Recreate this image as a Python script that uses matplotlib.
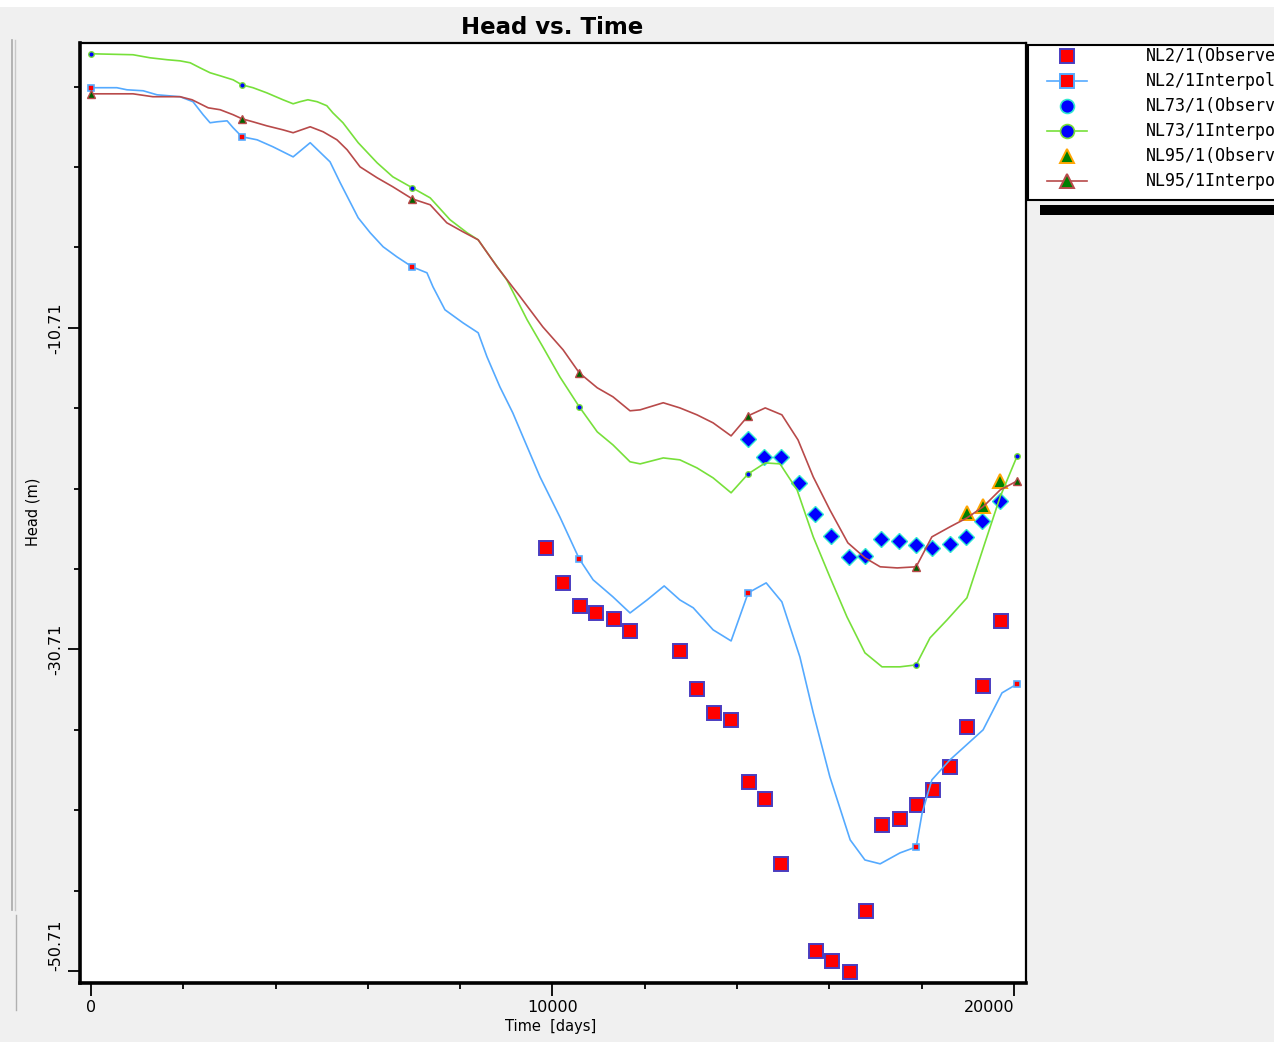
import numpy as np
import matplotlib.pyplot as plt
from matplotlib.lines import Line2D
from matplotlib.patches import Rectangle

# observed heads (days, m)
nl2_obs_days = [9860, 10230, 10600, 10940, 11330, 11680, 12760, 13130, 13500, 13870,
                14260, 14600, 14950, 15710, 16060, 16450, 16790, 17140, 17530, 17900,
                18250, 18610, 18980, 19330, 19720]
nl2_obs_head = [-24.39, -26.57, -28.00, -28.43, -28.81, -29.55, -30.80, -33.16, -34.65, -35.09,
                -38.94, -40.00, -44.04, -49.45, -50.08, -50.76, -46.97, -41.62, -41.24, -40.37,
                -39.44, -38.01, -35.52, -32.97, -28.93]

nl73_obs_days = [14240, 14580, 14950, 15340, 15690, 16030, 16430, 16770, 17120, 17510,
                 17880, 18220, 18610, 18960, 19310, 19700]
nl73_obs_head = [-17.61, -18.73, -18.73, -20.35, -22.28, -23.65, -24.95, -24.89, -23.83, -23.96,
                 -24.21, -24.39, -24.14, -23.71, -22.71, -21.47]

nl95_obs_days = [18980, 19330, 19700]
nl95_obs_head = [-22.22, -21.78, -20.23]

# interpolated (simulated) heads
nl2_int_days = [0, 560, 780, 1130, 1430, 1930, 2210, 2430, 2580, 2730, 2950, 3080, 3270,
                3600, 3940, 4380, 4750, 5180, 5400, 5790, 6050, 6330, 6630, 6960,
                7280, 7410, 7670, 8060, 8390, 8580, 8860, 9140, 9360, 9730, 10160, 10580,
                10880, 11310, 11680, 12050, 12420, 12760, 13050, 13480, 13870, 14240,
                14630, 14970, 15360, 15650, 16010, 16450, 16770, 17100, 17530, 17880,
                18010, 18220, 18610, 19330, 19740, 20070]
nl2_int_head = [4.22, 4.22, 4.09, 4.03, 3.78, 3.66, 3.35, 2.54, 2.04, 2.10, 2.16, 1.73, 1.17,
                0.98, 0.55, -0.08, 0.80, -0.39, -1.69, -3.87, -4.80, -5.67, -6.30, -6.92,
                -7.29, -8.16, -9.59, -10.40, -11.02, -12.51, -14.38, -16.00, -17.49, -19.98, -22.47, -25.08,
                -26.38, -27.44, -28.44, -27.63, -26.76, -27.63, -28.12, -29.49, -30.18, -27.19,
                -26.57, -27.75, -31.17, -34.65, -38.63, -42.55, -43.80, -44.04, -43.36, -42.99,
                -40.87, -38.82, -37.58, -35.71, -33.41, -32.85]

nl73_int_days = [0, 910, 1280, 1650, 1930, 2150, 2360, 2580, 2800, 3080, 3270,
                 3510, 3810, 4160, 4380, 4530, 4700, 4900, 5110, 5240, 5460, 5790, 6200, 6540, 6960,
                 7350, 7780, 8150, 8390, 8650, 9010, 9450, 9790, 10160, 10580,
                 10970, 11310, 11680, 11900, 12400, 12760, 13130, 13480, 13870, 14240,
                 14610, 14930, 15300, 15650, 16010, 16380, 16770, 17140, 17530, 17880,
                 18180, 18550, 18980, 19370, 19700, 20070]
nl73_int_head = [6.33, 6.27, 6.08, 5.96, 5.89, 5.77, 5.46, 5.15, 4.96, 4.71, 4.40,
                 4.22, 3.90, 3.47, 3.22, 3.35, 3.47, 3.35, 3.10, 2.66, 2.04, 0.80, -0.45, -1.32, -2.00,
                 -2.63, -3.99, -4.80, -5.24, -6.30, -7.73, -10.21, -11.89, -13.76, -15.62,
                 -17.18, -17.99, -19.04, -19.17, -18.80, -18.92, -19.42, -20.04, -20.97, -19.79,
                 -19.11, -19.17, -20.79, -23.71, -26.20, -28.68, -30.92, -31.79, -31.79, -31.67,
                 -29.99, -28.87, -27.50, -24.08, -21.22, -18.67]

nl95_int_days = [0, 910, 1340, 1930, 2190, 2540, 2800, 3080, 3270,
                 3510, 3810, 4160, 4380, 4750, 5030, 5330, 5550, 5830, 6200, 6540, 6960,
                 7350, 7710, 8060, 8390, 8800, 9300, 9790, 10230, 10580,
                 10970, 11310, 11680, 11900, 12400, 12760, 13130, 13480, 13870, 14240,
                 14610, 14970, 15320, 15650, 16010, 16400, 16770, 17100, 17470, 17880,
                 18220, 18610, 18980, 19330, 19700, 20070]
nl95_int_head = [3.84, 3.84, 3.66, 3.66, 3.47, 2.97, 2.85, 2.54, 2.29,
                 2.10, 1.85, 1.60, 1.42, 1.79, 1.48, 0.98, 0.36, -0.70, -1.38, -1.94, -2.69,
                 -3.06, -4.18, -4.74, -5.24, -6.92, -8.78, -10.65, -12.08, -13.51,
                 -14.44, -15.00, -15.87, -15.81, -15.37, -15.69, -16.12, -16.62, -17.43, -16.18,
                 -15.69, -16.12, -17.68, -19.98, -22.03, -24.08, -25.01, -25.57, -25.64, -25.57,
                 -23.71, -23.09, -22.53, -21.84, -20.79, -20.23]

# days where the simulated series carry a marker
sim_days = [0, 3270, 6960, 10580, 14240, 17880, 20070]

labels = ['NL2/1(Observed)', 'NL2/1Interpolated', 'NL73/1(Observed)',
          'NL73/1Interpolated', 'NL95/1(Observed)', 'NL95/1Interpolated']

blue_line = '#55aaff'
green_line = '#77e03a'
red_line = '#b84a4a'

W, H = 1274, 1042
fig = plt.figure(figsize=(W / 100, H / 100), dpi=100, facecolor='#f0f0f0')
ax = fig.add_axes([80 / W, 1 - 983 / H, 946 / W, 940 / H])
ax.set_facecolor('white')


def marks(days):
    return [i for i, d in enumerate(days) if d in sim_days]


# observed points
ax.plot(nl2_obs_days, nl2_obs_head, ls='none', marker='s', ms=10,
        mfc='red', mec='#4a3cc0', mew=1.4, zorder=3)
ax.plot(nl73_obs_days, nl73_obs_head, ls='none', marker='D', ms=8.5,
        mfc='blue', mec='#30e8d0', mew=1.0, zorder=3)
ax.plot(nl95_obs_days, nl95_obs_head, ls='none', marker='^', ms=10,
        mfc='#008000', mec='orange', mew=1.4, zorder=3)

# interpolated lines
ax.plot(nl2_int_days, nl2_int_head, color=blue_line, lw=1.2, marker='s', ms=5,
        mfc='red', mec=blue_line, mew=1.2, markevery=marks(nl2_int_days), zorder=4)
ax.plot(nl73_int_days, nl73_int_head, color=green_line, lw=1.2, marker='o', ms=4,
        mfc='blue', mec=green_line, mew=1.0, markevery=marks(nl73_int_days), zorder=4)
ax.plot(nl95_int_days, nl95_int_head, color=red_line, lw=1.2, marker='^', ms=6,
        mfc='#006400', mec=red_line, mew=1.0, markevery=marks(nl95_int_days), zorder=4)

ax.set_xlim(-238, 20260)
ax.set_ylim(-51.45, 7.0)

ax.set_xticks([0, 10000, 20000])
ax.set_xticklabels(['0', '10000', '20000'])
ax.set_xticks(np.arange(0, 20001, 2000), minor=True)
ax.set_yticks([-50.71, -30.71, -10.71])
ax.set_yticklabels(['-50.71', '-30.71', '-10.71'])
ax.set_yticks(np.arange(-50.71, 7, 5), minor=True)

ax.tick_params(which='major', direction='out', length=9, width=1.3, labelsize=11.5,
               pad=3, color='black')
ax.tick_params(which='minor', direction='out', length=4.5, width=1.3)
for lab in ax.get_yticklabels():
    lab.set_rotation(90)
    lab.set_va('center')
ax.get_yticklabels()[0].set_va('bottom')
ax.get_xticklabels()[-1].set_ha('right')

for s in ['left', 'bottom']:
    ax.spines[s].set_linewidth(2.6)
for s in ['top', 'right']:
    ax.spines[s].set_linewidth(1.6)

fig.text(552 / W, 1 - 27 / H, 'Head vs. Time', ha='center', va='center',
         fontsize=16.5, fontweight='bold')
fig.text(551 / W, 1 - 1027 / H, 'Time  [days]', ha='center', va='center', fontsize=10.5)
fig.text(33 / W, 1 - 512 / H, 'Head (m)', ha='center', va='center', fontsize=10.5,
         rotation=90)

handles = [
    Line2D([], [], ls='none', marker='s', ms=10, mfc='red', mec='#4a3cc0', mew=1.4),
    Line2D([], [], color=blue_line, lw=1.2, marker='s', ms=10, mfc='red', mec=blue_line, mew=1.4),
    Line2D([], [], ls='none', marker='o', ms=10, mfc='blue', mec='#30e8d0', mew=1.2),
    Line2D([], [], color=green_line, lw=1.2, marker='o', ms=10, mfc='blue', mec=green_line, mew=1.2),
    Line2D([], [], ls='none', marker='^', ms=10, mfc='#008000', mec='orange', mew=1.4),
    Line2D([], [], color=red_line, lw=1.2, marker='^', ms=10, mfc='#008000', mec=red_line, mew=1.4),
]

# legend frame drawn by hand so it runs off the right edge like the screenshot
fig.patches.append(Rectangle((1028 / W, 1 - 200 / H), 300 / W, 155 / H, transform=fig.transFigure,
                             facecolor='white', edgecolor='black', lw=1.5, zorder=5))
leg = fig.legend(handles, labels, loc='upper left', bbox_to_anchor=(1044 / W, 1 - 44 / H),
                 bbox_transform=fig.transFigure, frameon=False, borderaxespad=0,
                 borderpad=0.2, handlelength=2.4, handletextpad=3.5, labelspacing=0.42,
                 prop={'family': 'DejaVu Sans Mono', 'size': 12})
leg.set_zorder(6)

# window decorations
fig.patches.append(Rectangle((0, 1 - 7 / H), 1, 7 / H, transform=fig.transFigure,
                             facecolor='white', edgecolor='none'))
fig.patches.append(Rectangle((1040 / W, 1 - 215 / H), 234 / W, 10 / H, transform=fig.transFigure,
                             facecolor='black', edgecolor='none'))
fig.lines.append(Line2D([12 / W, 12 / W], [1 - 910 / H, 1 - 40 / H], transform=fig.transFigure,
                        color='#a8a8a8', lw=1.2))
fig.lines.append(Line2D([15 / W, 15 / W], [1 - 910 / H, 1 - 40 / H], transform=fig.transFigure,
                        color='#c8c8c8', lw=1.0))
fig.lines.append(Line2D([16 / W, 16 / W], [1 - 1010 / H, 1 - 915 / H], transform=fig.transFigure,
                        color='#b0b0b0', lw=1.0))

fig.savefig('out.png', dpi=100, facecolor=fig.get_facecolor())
